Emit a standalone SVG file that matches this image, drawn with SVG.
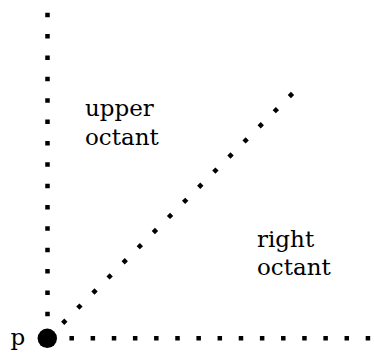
<svg xmlns="http://www.w3.org/2000/svg" width="374" height="353" viewBox="0 0 374 353">
<style>
.dot{stroke:#000;stroke-width:4.5;fill:none;stroke-linecap:butt}
.lbl{font-family:"DejaVu Serif","Liberation Serif",serif;font-size:23px;fill:#000}
</style>
<rect width="374" height="353" fill="#fff"/>
<g id="connectors">
<line class="dot" x1="47.5" y1="12.75" x2="47.5" y2="316.5" stroke-dasharray="4.5 16.86"/>
<line class="dot" x1="69.45" y1="338.3" x2="370.5" y2="338.3" stroke-dasharray="4.5 16.66"/>
<line class="dot" x1="62.7" y1="323.3" x2="292.6" y2="93.4" stroke-dasharray="4.5 16.87"/>
</g>
<g id="p">
<circle cx="47.3" cy="338.3" r="9.7" fill="#000"/>
<text class="lbl" x="10.5" y="345">p</text>
</g>
<g id="upper">
<text class="lbl" x="85" y="116">upper</text>
<text class="lbl" x="85" y="145">octant</text>
</g>
<g id="right">
<text class="lbl" x="257" y="247">right</text>
<text class="lbl" x="257" y="275">octant</text>
</g>
</svg>
